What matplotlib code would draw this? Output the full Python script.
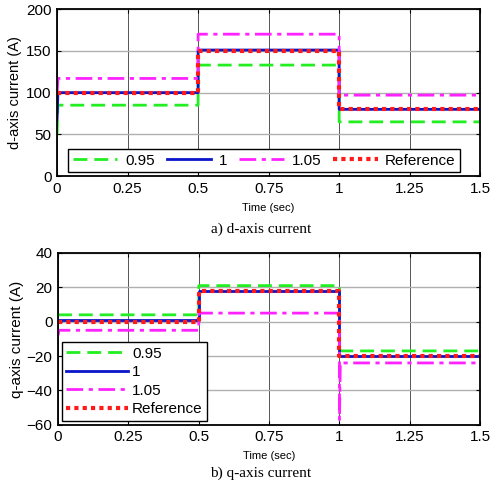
"""
d-axis and q-axis current responses for different parameter ratios.
"""

import matplotlib.pyplot as plt

plt.rcParams["font.family"] = ["Liberation Sans", "DejaVu Sans"]

# time breakpoints (step changes at 0.5 s and 1.0 s)
t_main = [0, 0.003, 0.5, 0.5, 1.0, 1.0, 1.5]
t_spike = [0, 0.003, 0.5, 0.5, 1.0, 1.0, 1.003, 1.5]

# d-axis current (A)
id_095 = [50, 85, 85, 133, 133, 65, 65]
id_100 = [68, 100, 100, 151, 151, 80, 80]
id_105 = [100, 117, 117, 170, 170, 97, 97]
id_ref = [100, 100, 100, 150, 150, 80, 80]

# q-axis current (A)
iq_095 = [4, 4, 4, 21, 21, -15, -17, -17]
iq_100 = [1, 1, 1, 18, 18, -20, -20, -20]
iq_105 = [-8, -5, -5, 5, 5, -57, -24, -24]
iq_ref = [0, 0, 0, 18, 18, -20, -20, -20]

labels = ["0.95", "1", "1.05", "Reference"]
styles = [
    dict(color="#22ee22", ls=(0, (5, 2.5)), lw=2),
    dict(color="#0a14c8", ls="-", lw=2),
    dict(color="#ff22ff", ls=(0, (6, 2, 1.5, 2)), lw=2),
    dict(color="#ff1a1a", ls=(0, (1, 1)), lw=3),
]
x_ticks = [0, 0.25, 0.5, 0.75, 1, 1.25, 1.5]
x_ticklabels = ["0", "0.25", "0.5", "0.75", "1", "1.25", "1.5"]


def style_axes(ax):
    ax.set_xlim(0, 1.5)
    ax.set_xticks(x_ticks)
    ax.set_xticklabels(x_ticklabels)
    ax.grid(axis="x", color="#555555", lw=0.7)
    ax.grid(axis="y", color="#b0b0b0", lw=1.0)
    ax.tick_params(direction="in", top=True, right=True, labelsize=11, length=3, pad=4)
    for sp in ax.spines.values():
        sp.set_linewidth(1.3)
    ax.set_xlabel("Time (sec)", fontsize=8, labelpad=5)


fig = plt.figure(figsize=(4.92, 4.8), dpi=100)
ax1 = fig.add_axes([0.116, 0.633, 0.86, 0.348])
ax2 = fig.add_axes([0.118, 0.115, 0.858, 0.358])

for y, lab, st in zip([id_095, id_100, id_105, id_ref], labels, styles):
    ax1.plot(t_main, y, label=lab, **st)
ax1.set_ylim(0, 200)
ax1.set_yticks([0, 50, 100, 150, 200])
ax1.set_ylabel("d-axis current (A)", fontsize=10.5, labelpad=3)
style_axes(ax1)
leg1 = ax1.legend(loc="lower center", ncol=4, fontsize=11, frameon=True,
                  fancybox=False, edgecolor="black", framealpha=1,
                  handlelength=2.9, columnspacing=0.8, handletextpad=0.5,
                  borderaxespad=0.25, borderpad=0.3, bbox_to_anchor=(0.49, 0.0))
leg1.get_frame().set_linewidth(1.0)

for y, lab, st in zip([iq_095, iq_100, iq_105, iq_ref], labels, styles):
    ax2.plot(t_spike, y, label=lab, **st)
ax2.set_ylim(-60, 40)
ax2.set_yticks([-60, -40, -20, 0, 20, 40])
ax2.set_ylabel("q-axis current (A)", fontsize=11, labelpad=2)
style_axes(ax2)
leg2 = ax2.legend(loc="lower left", ncol=1, fontsize=11, frameon=True,
                  fancybox=False, edgecolor="black", framealpha=1,
                  handlelength=4.0, handletextpad=0.3, labelspacing=0.3,
                  borderaxespad=0.25, borderpad=0.3)
leg2.get_frame().set_linewidth(1.0)

fig.text(0.53, 0.515, "a) d-axis current", ha="center", fontsize=11,
         family=["Liberation Serif", "DejaVu Serif"])
fig.text(0.53, 0.006, "b) q-axis current", ha="center", fontsize=11,
         family=["Liberation Serif", "DejaVu Serif"])

fig.savefig("out.png", dpi=100)
